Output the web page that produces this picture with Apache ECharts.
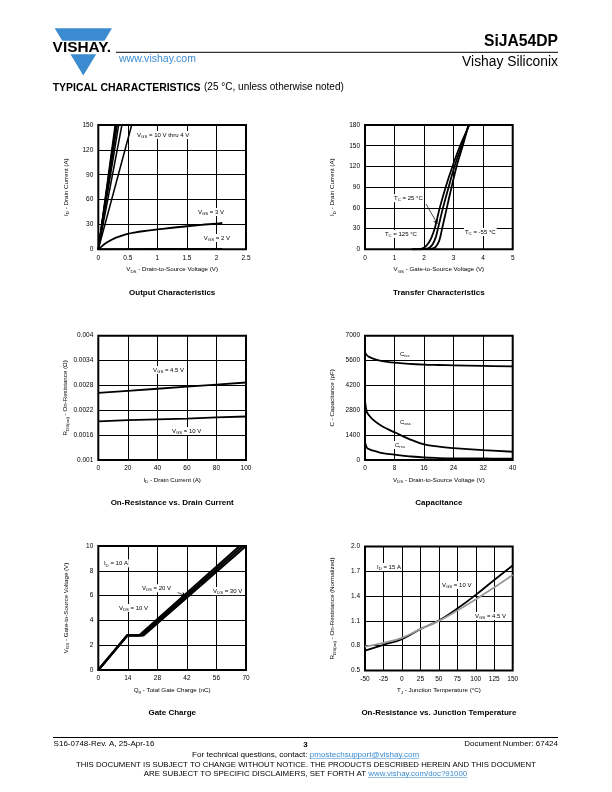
<!DOCTYPE html>
<html><head><meta charset="utf-8">
<script src="https://cdn.jsdelivr.net/npm/echarts@6/dist/echarts.min.js"></script>
<style>html,body{margin:0;padding:0;background:#fff}#c{width:612px;height:792px}</style>
</head><body><div id="c"></div><script>
// ---------------- DATA ----------------
// Output characteristics
const outHighVgsLabels = ['10 V','9 V','8 V','7 V','6 V','5 V','4 V'];
const outHighVdsAt150A = [0.285,0.295,0.305,0.32,0.345,0.40,0.565];
const outVgs3 = [[0,0],[0.05,3],[0.1,6],[0.15,8.5],[0.2,10.5],[0.3,14],[0.4,16.5],[0.5,18.5],[0.6,20],[0.75,21.8],[1.0,24],[1.25,26],[1.5,27.8],[1.75,29.5],[2.0,31],[2.1,31.8]];
const outVgs2 = [[0,0],[0.5,0.3],[1,0.4],[1.5,0.45],[2.1,0.5]];
// Transfer characteristics
const trT125 = [[1.6,0],[1.8,0.3],[1.95,1.5],[2.05,4],[2.15,9],[2.25,17],[2.36,30],[2.53,60],[2.73,90],[2.96,120],[3.22,150],[3.53,180]];
const trT25  = [[1.6,0],[1.95,0.2],[2.1,1],[2.2,3],[2.3,8],[2.4,18],[2.47,30],[2.64,60],[2.83,90],[3.03,120],[3.27,150],[3.52,180]];
const trTm55 = [[1.6,0],[2.15,0.2],[2.3,1.2],[2.4,4],[2.5,11],[2.56,20],[2.61,30],[2.77,60],[2.93,90],[3.10,120],[3.31,150],[3.50,180]];
const trArrow = [[2.065,65.6],[2.45,37]];
// On-resistance vs drain current
const rdsId = [0,20,40,60,80,100];
const rdsVgs45 = [0.00262,0.00267,0.00272,0.00277,0.00282,0.00287];
const rdsVgs10 = [0.00193,0.00196,0.00198,0.00200,0.00203,0.00205];
// Capacitance
const capVds = [0,0.5,1,2,4,6,8,12,16,20,24,32,40];
const capCiss = [6050,5900,5820,5720,5600,5530,5480,5410,5370,5350,5330,5300,5270];
const capCoss = [3320,2700,2540,2300,1980,1750,1560,1180,880,750,670,555,465];
const capCrss = [995,700,620,540,420,350,300,210,140,110,95,85,75];
// Gate charge
const gcVds10 = [[0,0],[13.8,2.8],[19.5,2.8],[20.5,2.95],[67,10]];
const gcVds20 = [[0,0],[13.8,2.8],[20.5,2.8],[21.5,2.95],[68.5,10]];
const gcVds30 = [[0,0],[13.8,2.8],[21.5,2.8],[22.5,2.95],[70,10]];
const gcArrow = [[37.6,6.25],[41.3,5.98]];
// On-resistance vs junction temperature
const tjTemp = [-50,-25,0,25,50,75,100,125,150];
const tjVgs10 = [0.74,0.81,0.88,1.0,1.105,1.25,1.415,1.595,1.77];
const tjVgs45 = [0.79,0.835,0.895,1.0,1.1,1.225,1.36,1.505,1.655];

// ---------------- STYLE ----------------
const FONT = '"Liberation Sans", Arial, Helvetica, sans-serif';
const BLUE = '#3b8bd0';
const richName = {
  n:{fontSize:6.2, fontFamily:FONT, color:'#000', lineHeight:8},
  s:{fontSize:4.4, fontFamily:FONT, color:'#000', lineHeight:8, verticalAlign:'bottom'}
};
const gridBoxes = [
  [98.3,125,147.7,124.3],[365,125,147.7,124.3],
  [98.3,335.7,147.7,124.3],[365,335.7,147.7,124.3],
  [98.3,546,147.7,124],[365,546.5,147.7,124]
];
const grids = gridBoxes.map(b => ({left:b[0], top:b[1], width:b[2], height:b[3], show:true,
  borderColor:'#000', borderWidth:2, backgroundColor:'rgba(0,0,0,0)'}));

const plain = v => String(+v.toFixed(4));
function axis(i, min, max, interval, name, isY, fmt){
  return {type:'value', gridIndex:i, min, max, interval, name,
    nameLocation:'middle', nameGap: isY?28.5:16, nameRotate: isY?90:0,
    nameTextStyle:{rich:richName, fontSize:6.2, fontFamily:FONT, color:'#000'},
    axisLine:{show:false}, axisTick:{show:false},
    splitLine:{show:true, lineStyle:{color:'#000', width:1}},
    axisLabel:{show:true, color:'#000', fontSize:6.5, fontFamily:FONT, margin:5, formatter:fmt||plain, showMinLabel:true, showMaxLabel:true}};
}
const xAxes = [
  axis(0,0,2.5,0.5,'{n|V}{s|DS}{n| - Drain-to-Source Voltage (V)}',false),
  axis(1,0,5,1,'{n|V}{s|GS}{n| - Gate-to-Source Voltage (V)}',false),
  axis(2,0,100,20,'{n|I}{s|D}{n| - Drain Current (A)}',false),
  axis(3,0,40,8,'{n|V}{s|DS}{n| - Drain-to-Source Voltage (V)}',false),
  axis(4,0,70,14,'{n|Q}{s|g}{n| - Total Gate Charge (nC)}',false),
  axis(5,-50,150,25,'{n|T}{s|J}{n| - Junction Temperature (°C)}',false)
];
const yAxes = [
  axis(0,0,150,30,'{n|I}{s|D}{n| - Drain Current (A)}',true),
  axis(1,0,180,30,'{n|I}{s|D}{n| - Drain Current (A)}',true),
  axis(2,0.001,0.004,0.0006,'{n|R}{s|DS(on)}{n| - On-Resistance (Ω)}',true),
  axis(3,0,7000,1400,'{n|C - Capacitance (pF)}',true),
  axis(4,0,10,2,'{n|V}{s|GS}{n| - Gate-to-Source Voltage (V)}',true),
  axis(5,0.5,2.0,0.3,'{n|R}{s|DS(on)}{n| - On-Resistance (Normalized)}',true, v => v.toFixed(1))
];

function line(i, data, extra){
  return Object.assign({type:'line', xAxisIndex:i, yAxisIndex:i, data, symbol:'none', showSymbol:false,
    silent:true, z:3, lineStyle:{color:'#000', width:1.8}}, extra||{});
}
const zip = (xs, ys) => xs.map((x,k)=>[x, ys[k]]);
const series = [];
outHighVdsAt150A.forEach((v,k)=>series.push(line(0,[[0,0],[v,150]],{name:outHighVgsLabels[k], lineStyle:{color:'#000',width:1.5}})));
series.push(line(0,outVgs3,{smooth:0.4}));
series.push(line(0,outVgs2));
series.push(line(1,trT125,{smooth:0.3}));
series.push(line(1,trT25,{smooth:0.3}));
series.push(line(1,trTm55,{smooth:0.3}));
series.push(line(2,zip(rdsId,rdsVgs45)));
series.push(line(2,zip(rdsId,rdsVgs10)));
series.push(line(3,zip(capVds,capCiss),{smooth:0.4}));
series.push(line(3,zip(capVds,capCoss),{smooth:0.4}));
series.push(line(3,zip(capVds,capCrss),{smooth:0.4}));
series.push(line(4,gcVds10,{lineStyle:{color:'#000',width:2.2}}));
series.push(line(4,gcVds20,{lineStyle:{color:'#000',width:2.2}}));
series.push(line(4,gcVds30,{lineStyle:{color:'#000',width:2.2}}));
series.push(line(5,zip(tjTemp,tjVgs10),{smooth:0.5}));
series.push(line(5,zip(tjTemp,tjVgs45),{smooth:0.5, lineStyle:{color:'#999',width:1.8}}));
function arrow(i, coords){
  return {type:'lines', coordinateSystem:'cartesian2d', xAxisIndex:i, yAxisIndex:i, silent:true, z:6,
    symbol:['none','arrow'], symbolSize:4, effect:{show:false},
    lineStyle:{color:'#000', width:0.7, opacity:1, curveness:0}, data:[{coords}]};
}
series.push(arrow(1,trArrow));
series.push(arrow(4,gcArrow));

const chart = echarts.init(document.getElementById('c'), null, {renderer:'canvas', width:612, height:792});
chart.setOption({animation:false, backgroundColor:'#fff', grid:grids, xAxis:xAxes, yAxis:yAxes, series});

// ---------------- TEXT / ANNOTATIONS ----------------
const noteRich = {
  n:{fontSize:6, fontFamily:FONT, fill:'#000', lineHeight:8},
  s:{fontSize:4.3, fontFamily:FONT, fill:'#000', lineHeight:8, verticalAlign:'bottom'}
};
const notes = [
  [0,[0.64,138],'{n|V}{s|GS}{n| = 10 V thru 4 V}'],
  [0,[1.67,45],'{n|V}{s|GS}{n| = 3 V}'],
  [0,[1.77,13.6],'{n|V}{s|GS}{n| = 2 V}'],
  [1,[0.95,74],'{n|T}{s|C}{n| = 25 °C}'],
  [1,[0.64,22],'{n|T}{s|C}{n| = 125 °C}'],
  [1,[3.35,25],'{n|T}{s|C}{n| = -55 °C}'],
  [2,[36.4,0.003172],'{n|V}{s|GS}{n| = 4.5 V}'],
  [2,[49.2,0.0017],'{n|V}{s|GS}{n| = 10 V}'],
  [3,[9.2,5968],'{n|C}{s|iss}'],
  [3,[9.2,2140],'{n|C}{s|oss}'],
  [3,[7.85,845],'{n|C}{s|rss}'],
  [4,[2.2,8.6],'{n|I}{s|D}{n| = 10 A}'],
  [4,[20.2,6.6],'{n|V}{s|DS}{n| = 20 V}'],
  [4,[53.9,6.36],'{n|V}{s|DS}{n| = 30 V}'],
  [4,[9.3,5.0],'{n|V}{s|DS}{n| = 10 V}'],
  [5,[-35.1,1.752],'{n|I}{s|D}{n| = 15 A}'],
  [5,[52.9,1.534],'{n|V}{s|GS}{n| = 10 V}'],
  [5,[97.6,1.159],'{n|V}{s|GS}{n| = 4.5 V}']
];
const titles = [
  ['Output Characteristics',172.2,292.5],['Transfer Characteristics',438.9,292.5],
  ['On-Resistance vs. Drain Current',172.2,502.5],['Capacitance',438.9,502.5],
  ['Gate Charge',172.2,713],['On-Resistance vs. Junction Temperature',438.9,713]
];
const meas = document.createElement('canvas').getContext('2d');
function tw(str, size, weight){ meas.font = (weight||'normal')+' '+size+'px "Liberation Sans"'; return meas.measureText(str).width; }
function fitSize(str, target, weight){ return 10*target/tw(str,10,weight); }
function txt(str, x, y, size, opts){
  opts = opts||{};
  return {type:'text', x, y, z:20, silent:true, style:{text:str, fontSize:size, fontFamily:FONT,
    fontWeight:opts.weight||'normal', fill:opts.fill||'#000', align:opts.align||'left', textAlign:opts.align||'left',
    verticalAlign:'middle', textVerticalAlign:'middle'}};
}
const G = [];
// logo
G.push({type:'polygon', z:15, silent:true, shape:{points:[[54.7,28.3],[112,28.3],[83.3,75.5]]}, style:{fill:BLUE}});
G.push({type:'rect', z:16, silent:true, shape:{x:50,y:40.8,width:66,height:13.4}, style:{fill:'#fff'}});
G.push(txt('VISHAY.',52.6,48.2,fitSize('VISHAY.',58.6,'bold'),{weight:'bold'}));
G.push({type:'line', z:15, silent:true, shape:{x1:114,y1:52.3,x2:558,y2:52.3}, style:{stroke:'#000', lineWidth:1}});
G.push(txt('www.vishay.com',119,59.5,fitSize('www.vishay.com',77),{fill:BLUE}));
G.push(txt('SiJA54DP',558,41.7,fitSize('SiJA54DP',74,'bold'),{weight:'bold',align:'right'}));
G.push(txt('Vishay Siliconix',558,61.8,fitSize('Vishay Siliconix',96),{align:'right'}));
G.push(txt('TYPICAL CHARACTERISTICS',52.7,87.7,fitSize('TYPICAL CHARACTERISTICS',148,'bold'),{weight:'bold'}));
G.push(txt('(25 °C, unless otherwise noted)',204,87.7,fitSize('(25 °C, unless otherwise noted)',140)));
// chart titles
titles.forEach(t=>G.push(txt(t[0],t[1],t[2],8,{weight:'bold',align:'center'})));
// footer
G.push({type:'line', z:15, silent:true, shape:{x1:53,y1:737.5,x2:558,y2:737.5}, style:{stroke:'#000', lineWidth:1}});
G.push(txt('S16-0748-Rev. A, 25-Apr-16',53.6,743.8,fitSize('S16-0748-Rev. A, 25-Apr-16',101)));
G.push(txt('3',305.5,744.5,8,{weight:'bold',align:'center'}));
G.push(txt('Document Number: 67424',558,743.8,fitSize('Document Number: 67424',94),{align:'right'}));
function linkLine(a, b, cx, y, target){
  const s = fitSize(a+b, target);
  const wa = tw(a,s), wb = tw(b,s), x0 = cx-(wa+wb)/2;
  G.push(txt(a,x0,y,s));
  G.push(txt(b,x0+wa,y,s,{fill:BLUE}));
  G.push({type:'line', z:15, silent:true, shape:{x1:x0+wa,y1:y+s*0.5,x2:x0+wa+wb,y2:y+s*0.5}, style:{stroke:BLUE, lineWidth:0.6}});
}
linkLine('For technical questions, contact: ','pmostechsupport@vishay.com',305.7,754.3,227.8);
const disc1 = 'THIS DOCUMENT IS SUBJECT TO CHANGE WITHOUT NOTICE. THE PRODUCTS DESCRIBED HEREIN AND THIS DOCUMENT';
G.push(txt(disc1,306,765,fitSize(disc1,460.7),{align:'center'}));
linkLine('ARE SUBJECT TO SPECIFIC DISCLAIMERS, SET FORTH AT ','www.vishay.com/doc?91000',305.5,773.5,324);
// annotations in data coordinates
notes.forEach(n=>{
  const p = chart.convertToPixel({gridIndex:n[0]}, n[1]);
  G.push({type:'text', x:p[0], y:p[1], z:20, silent:true, style:{text:n[2], rich:noteRich, fontSize:6, fontFamily:FONT, fill:'#000',
    align:'left', textAlign:'left', verticalAlign:'middle', textVerticalAlign:'middle', backgroundColor:'#fff', padding:[0,1,0,1]}});
});
chart.setOption({graphic:{elements:G}});
</script></body></html>
